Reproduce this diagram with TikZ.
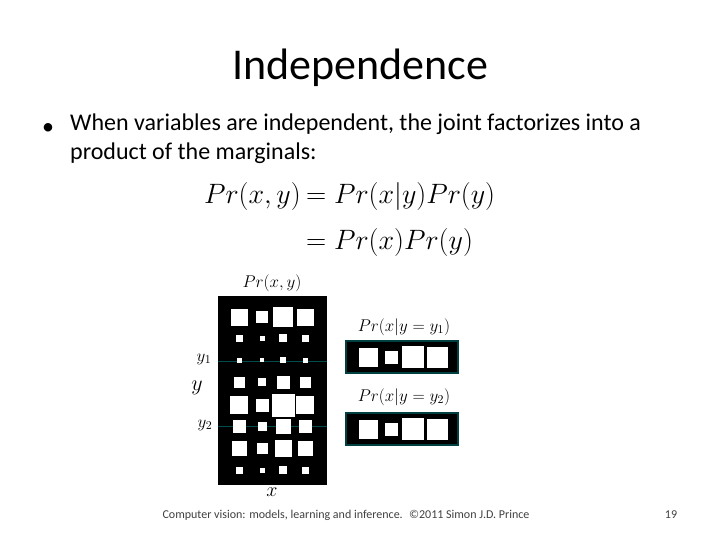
\documentclass[tikz,border=0pt]{standalone}
\usepackage{fix-cm}
\usepackage{fontspec}
\setmainfont{Carlito}
\begin{document}
\begin{tikzpicture}[x=1pt,y=-1pt,
  sq/.style={fill=white,draw=none},
  lbl/.style={inner sep=0pt,font=\fontsize{17}{19}\selectfont},
  eq/.style={inner sep=0pt,font=\fontsize{28}{32}\selectfont}]
\useasboundingbox[fill=white] (0,0) rectangle (720,540);
\node[inner sep=0pt,font=\fontsize{44}{48}\selectfont] (title) at (360,68) {Independence};
\node[inner sep=0pt,font=\fontsize{24}{28}\selectfont] (bul) at (48,129) {•};
\node[inner sep=0pt,anchor=north west,align=left,font=\fontsize{24}{29}\selectfont] (txt) at (70,114) {When variables are independent, the joint factorizes into a\\product of the marginals:};
\node[eq,anchor=east] (e1) at (301,197) {$Pr(x,y)$};
\node[eq,anchor=west] (e2) at (306,197) {$= Pr(x|y)Pr(y)$};
\node[eq,anchor=west] (e3) at (306,243) {$= Pr(x)Pr(y)$};
% joint
\fill[black] (218,296) rectangle (327,485);
\node[lbl] (pj) at (272,283) {$Pr(x,y)$};
\node[lbl,font=\fontsize{20}{22}\selectfont] (xl) at (272,492) {$x$};
\node[lbl] (y1l) at (204,359) {$y_1$};
\node[lbl,font=\fontsize{22}{24}\selectfont] (yl) at (197,388) {$y$};
\node[lbl] (y2l) at (205,425) {$y_2$};
\draw[teal!60!black] (218,361) -- (327,361);
\draw[teal!60!black] (218,426) -- (327,426);
\foreach \y/\a/\b/\c/\d in {317/17/12/20/17,338/7/5/8/7,360/5/3.5/6/5,382/11/8/13/11,405/18/13/23/18,426/13/9/15/13,448/15/11/17/15,470/7/5/8/7}{
  \fill[white] (239-\a/2,\y-\a/2) rectangle ++(\a,\a);
  \fill[white] (262-\b/2,\y-\b/2) rectangle ++(\b,\b);
  \fill[white] (283-\c/2,\y-\c/2) rectangle ++(\c,\c);
  \fill[white] (305-\d/2,\y-\d/2) rectangle ++(\d,\d);
}
% conditionals
\foreach \cy/\n in {357/1,429/2}{
  \fill[black,draw=teal!50!black,line width=1.5pt] (346,\cy-16) rectangle (458,\cy+16);
  \fill[white] (368-9.5,\cy-9.5) rectangle ++(19,19);
  \fill[white] (391-6.5,\cy-6.5) rectangle ++(13,13);
  \fill[white] (413-11,\cy-11) rectangle ++(22,22);
  \fill[white] (437-10.5,\cy-10.5) rectangle ++(21,21);
}
\node[lbl] (c1) at (404,327) {$Pr(x|y=y_1)$};
\node[lbl] (c2) at (404,397) {$Pr(x|y=y_2)$};
\node[inner sep=0pt,font=\fontsize{12}{14}\selectfont,text=black!75] (foot) at (346,515) {Computer vision: models, learning and inference. \ ©2011 Simon J.D. Prince};
\node[inner sep=0pt,font=\fontsize{12}{14}\selectfont,text=black!75] (pg) at (671,515) {19};
\end{tikzpicture}
\end{document}
